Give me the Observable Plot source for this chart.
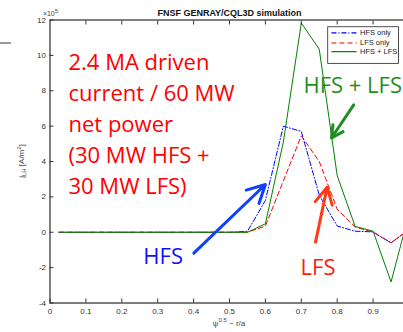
<!DOCTYPE html>
<html><head><meta charset="utf-8">
<script src="https://cdn.jsdelivr.net/npm/d3@7"></script>
<script src="https://cdn.jsdelivr.net/npm/@observablehq/plot@0.6"></script>
<style>
html,body{margin:0;padding:0;background:#fff;overflow:hidden;}
#wrap{position:relative;width:403px;height:332px;}
#deco{position:absolute;left:0;top:42px;width:11px;height:1.5px;background:#9a9a9a;}
</style></head><body><div id="wrap"><div id="deco"></div><div id="chart"></div></div>
<script>
// normalized radius sqrt(psi) ~ r/a
const rho     = [0.025,0.05,0.1,0.15,0.2,0.25,0.3,0.35,0.4,0.45,0.5,0.55,0.6,0.65,0.7,0.75,0.8,0.85,0.9,0.95,1.0];
// j_LH in units of 1e5 A/m^2
const hfsOnly = [0,0,0,0,0,0,0,0,0,0,0,0.05,1.8,6.0,5.7,2.1,0.35,0.06,0.02,-0.6,0.15];
const lfsOnly = [0,0,0,0,0,0,0,0,0,0,0,0.0,0.35,2.9,5.45,4.0,1.3,0.3,0.0,-0.6,0.15];
const hfsLfs  = [0,0,0,0,0,0,0,0,0,0,0,0.0,0.48,5.1,11.83,10.35,3.2,0.33,0.06,-2.81,1.05];

const xTicks = [0,0.1,0.2,0.3,0.4,0.5,0.6,0.7,0.8,0.9];
const yTicks = [-4,-2,0,2,4,6,8,10,12];
const titleText = "FNSF GENRAY/CQL3D simulation";
const legendNames = ["HFS only","LFS only","HFS + LFS"];

// annotations (data units)
const noteBlock = {x:0.0515, y:10.44, text:"2.4 MA driven\ncurrent / 60 MW\nnet power\n(30 MW HFS +\n30 MW LFS)"};
const notes = [
  {x:0.706, y:7.90, text:"HFS + LFS", color:"#1f8f23"},
  {x:0.260, y:-1.79, text:"HFS", color:"#1010ff"},
  {x:0.698, y:-2.44, text:"LFS", color:"#ff1a0a"}
];
const arrows = [
  {x1:0.846, y1:7.20, x2:0.784, y2:5.33, color:"#1f8f23"},
  {x1:0.4006, y1:-1.18, x2:0.600, y2:2.70, color:"#1040ff"},
  {x1:0.7396, y1:-0.56, x2:0.772, y2:2.55, color:"#ff3a14"}
];
const legendBox = {x1:0.775, x2:0.972, y1:9.52, y2:11.59};
const legendRowsY = [11.27, 10.70, 10.21];
const legendLineX = [0.784, 0.854];
const legendTextX = 0.8635;

const series = [
  {name:legendNames[0], values:hfsOnly, color:"#0000ff", dash:"5,2,1,2"},
  {name:legendNames[1], values:lfsOnly, color:"#ff0000", dash:"5,3"},
  {name:legendNames[2], values:hfsLfs,  color:"#008000", dash:null}
];
const legendRows = series.map((s,i)=>({...s, y:legendRowsY[i]}));

const lineMarks = series.map(s =>
  Plot.line(rho.map((r,i)=>({x:r, y:s.values[i]})), {x:"x", y:"y", stroke:s.color, strokeWidth:1, strokeDasharray:s.dash})
);

const chart = Plot.plot({
  width:403, height:332,
  marginLeft:49.5, marginRight:-5.5, marginTop:19.5, marginBottom:29.5,
  x:{domain:[0,1], range:[49.5,408.5]},
  y:{domain:[-4,12], range:[302.5,19.5]},
  style:{fontFamily:"Liberation Sans, Arial, sans-serif", fontSize:"8px", color:"#333", background:"white"},
  marks:[
    ...lineMarks,
    Plot.frame({stroke:"black", strokeWidth:1}),
    Plot.axisY({ticks:yTicks, tickSize:-4, tickPadding:8, label:null, tickFormat:d=>String(d), fontSize:8}),
    Plot.axisX({ticks:xTicks, tickSize:-4, tickPadding:9, label:null, tickFormat:d=>String(d), fontSize:8}),
    Plot.axisX({anchor:"top", ticks:xTicks.slice(1), tickSize:-4, label:null, tickFormat:()=>""}),
    Plot.text([titleText], {x:()=>0.5, text:d=>d, frameAnchor:"top", dy:-4.5, lineAnchor:"bottom", fontWeight:"bold", fontSize:9, fill:"#111"}),
    // legend
    Plot.rect([legendBox], {x1:"x1", x2:"x2", y1:"y1", y2:"y2", fill:"white", stroke:"#222", strokeWidth:0.8}),
    ...legendRows.map(r => Plot.link([r], {x1:()=>legendLineX[0], x2:()=>legendLineX[1], y1:"y", y2:"y", stroke:r.color, strokeWidth:1.2, strokeDasharray:r.dash})),
    Plot.text(legendRows, {x:()=>legendTextX, y:"y", text:"name", textAnchor:"start", fontSize:7.5, fill:"#222"}),
    // annotations
    Plot.text([noteBlock], {x:"x", y:"y", text:"text", textAnchor:"start", lineAnchor:"top", lineHeight:1.41, fontSize:22, fontFamily:"Open Sans", fill:"#ff0000"}),
    Plot.text(notes, {x:"x", y:"y", text:"text", textAnchor:"start", lineAnchor:"bottom", fontSize:22, fontFamily:"Open Sans", fill:d=>d.color}),
    ...arrows.map(a => Plot.arrow([a], {x1:"x1", y1:"y1", x2:"x2", y2:"y2", stroke:a.color, strokeWidth:3, headLength:10, headAngle:55}))
  ]
});
document.getElementById("chart").appendChild(chart);

const sx = chart.scale("x"), sy = chart.scale("y");
const svg = d3.select(chart);
// x10^5 multiplier
const mult = svg.append("text").attr("x", sx.apply(0)+1).attr("y", sy.apply(12)-4)
  .attr("font-size", 7).attr("fill", "#444");
mult.append("tspan").text("×10");
mult.append("tspan").attr("dy", -3).attr("font-size", 6).text("5");
// y label
const yl = svg.append("text").attr("transform", `translate(24,${sy.apply(4)}) rotate(-90)`)
  .attr("text-anchor","middle").attr("font-size", 8).attr("fill","#444");
yl.append("tspan").text("j");
yl.append("tspan").attr("dy", 2).attr("font-size", 6).text("LH");
yl.append("tspan").attr("dy", -2).text(" [A/m");
yl.append("tspan").attr("dy", -3).attr("font-size", 6).text("2");
yl.append("tspan").attr("dy", 3).text("]");
// x label
const xl = svg.append("text").attr("x", sx.apply(0.5)).attr("y", 326)
  .attr("text-anchor","middle").attr("font-size", 8).attr("fill","#444");
xl.append("tspan").text("ψ");
xl.append("tspan").attr("dy", -4).attr("font-size", 6).text("0.5");
xl.append("tspan").attr("dy", 4).text(" ~ r/a");
</script></body></html>
